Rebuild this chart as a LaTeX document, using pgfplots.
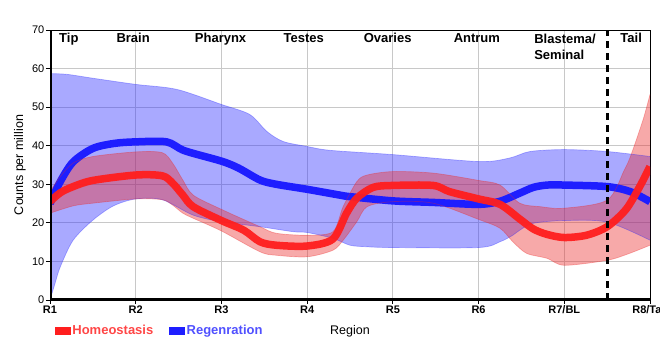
\documentclass[border=0pt]{standalone}
\usepackage{fontspec}
\setmainfont{Liberation Sans}
\usepackage{pgfplots}
\pgfplotsset{compat=1.18}
\usepgfplotslibrary{fillbetween}
\definecolor{hred}{RGB}{255,30,30}
\definecolor{hblue}{RGB}{30,30,255}
\definecolor{bandred}{RGB}{235,40,40}
\definecolor{bandblue}{RGB}{40,40,255}
\definecolor{gridgray}{RGB}{200,200,200}
\definecolor{legred}{RGB}{255,70,70}
\definecolor{legblue}{RGB}{80,80,255}
\begin{document}
\begin{tikzpicture}
\begin{axis}[
 at={(0,0)}, anchor=south west,
 scale only axis, width=600bp, height=270bp,
 xmin=0, xmax=7, ymin=0, ymax=70,
 xtick={0,...,7},
 xticklabels={R1,R2,R3,R4,R5,R6,R7/BL,R8/Tail},
 ytick={0,10,...,70},
 grid=major,
 grid style={gridgray, line width=1bp},
 axis line style={black, line width=1bp},
 tick align=outside, tick pos=left, major tick length=4bp,
 tick style={black, line width=1bp},
 /pgf/number format/assume math mode=true,
 yticklabel style={font=\fontsize{11bp}{13bp}\selectfont, inner sep=1.5bp},
 xticklabel style={font=\fontsize{11bp}{13bp}\selectfont\bfseries, inner sep=1.5bp},
 ylabel={Counts per million},
 ylabel style={at={(axis description cs:-0.05,0.5)}, anchor=center, font=\fontsize{12.5bp}{15bp}\selectfont},
 xlabel={Region},
 xlabel style={at={(axis description cs:0.5,-0.115)}, anchor=center, font=\fontsize{12.5bp}{15bp}\selectfont},
 legend style={at={(axis description cs:0.008,-0.114)}, anchor=west, draw=none, fill=none, inner sep=0pt, legend columns=2, font=\fontsize{13bp}{15bp}\selectfont\bfseries, /tikz/every even column/.append style={column sep=14bp}},
 legend cell align=left,
]
\addlegendimage{legend image code/.code={\fill[hred] (0bp,-3.4bp) rectangle (15bp,3.4bp);}}
\addlegendentry{\textcolor{legred}{Homeostasis}}
\addlegendimage{legend image code/.code={\fill[hblue] (0bp,-3.4bp) rectangle (15bp,3.4bp);}}
\addlegendentry{\textcolor{legblue}{Regenration}}

% Regeneration band
\addplot[name path=bu, draw=bandblue, draw opacity=0.35, line width=0.7bp, smooth, tension=0.5, forget plot] coordinates {
(0,58.7) (0.2,58.5) (0.5,57.5) (1,55.9) (1.48,54.6) (2,50.7) (2.33,48.1) (2.53,43.7) (2.72,41.1) (3,39.8) (3.27,38.8) (4,37.7) (5,35.9) (5.36,36.8) (5.6,38.5) (6,39) (6.5,38.5) (7,37.2)};
\addplot[name path=bl, draw=bandblue, draw opacity=0.35, line width=0.7bp, smooth, tension=0.5, forget plot] coordinates {
(0,0) (0.06,4.4) (0.12,8.6) (0.27,15.5) (0.5,20.7) (0.74,24.4) (1,26.2) (1.31,26) (1.67,22) (2,20.3) (2.45,19) (2.84,17.7) (3,17.5) (3.3,16) (3.5,14.2) (3.7,13.8) (4,13.6) (5,13.6) (5.25,15.1) (5.4,16.8) (5.48,18.1) (5.64,19.9) (6,20.6) (6.5,20.2) (7,15.5)};
\addplot[fill=bandblue, fill opacity=0.4, draw=none, forget plot] fill between[of=bu and bl];
% Regeneration mean
\addplot[hblue, line width=7.5bp, smooth, tension=0.5, forget plot] coordinates {
(0,25) (0.12,30.7) (0.27,35.8) (0.5,39.3) (0.75,40.6) (1,41) (1.36,41) (1.57,38.7) (2,36) (2.2,34.2) (2.45,31.1) (2.64,30) (3,28.7) (3.38,27.2) (3.5,26.8) (4,25.7) (4.47,25.3) (5,24.8) (5.25,25.6) (5.48,27.7) (5.64,29.2) (5.8,29.8) (6,29.8) (6.5,29.4) (6.77,28.1) (7,25.5)};

% Homeostasis band
\addplot[name path=ru, draw=bandred, draw opacity=0.35, line width=0.7bp, smooth, tension=0.5, forget plot] coordinates {
(0,28.1) (0.12,32) (0.27,35.5) (0.5,37.2) (1,38.4) (1.31,38.2) (1.43,35.5) (1.55,31.1) (1.67,27.2) (2,23.5) (2.45,19) (2.64,17.3) (3,16.8) (3.3,17.7) (3.42,24.2) (3.58,30.7) (3.7,32.4) (4,33.3) (4.47,32.9) (5,31) (5.25,29.8) (5.48,25.1) (5.72,24.2) (6,23.8) (6.5,25.9) (6.7,33.7) (6.78,37.7) (6.92,46.8) (7,53.3)};
\addplot[name path=rl, draw=bandred, draw opacity=0.35, line width=0.7bp, smooth, tension=0.5, forget plot] coordinates {
(0,22.5) (0.27,24.4) (0.5,25.1) (1,26.2) (1.31,26) (1.43,24.6) (1.55,22.5) (1.67,21.2) (2,17.9) (2.45,12.5) (2.64,11.6) (3,11.2) (3.3,12.9) (3.42,15.5) (3.58,20.3) (3.7,24.2) (4,25.5) (4.47,25.1) (5,20.9) (5.25,18.6) (5.4,15.1) (5.56,12.1) (5.8,10.8) (6,9) (6.5,10.3) (6.75,12) (7,14.2)};
\addplot[fill=bandred, fill opacity=0.4, draw=none, forget plot] fill between[of=ru and rl];
% Homeostasis mean
\addplot[hred, line width=7.5bp, opacity=0.95, smooth, tension=0.5, forget plot] coordinates {
(0,25.5) (0.12,27.8) (0.27,29.4) (0.5,31) (1,32.4) (1.31,32.2) (1.43,30.3) (1.55,27.2) (1.67,24.2) (2,20.6) (2.26,18.1) (2.45,15.1) (2.64,14.2) (3,14) (3.3,15.8) (3.46,22.5) (3.58,26.4) (3.77,29.2) (4,29.7) (4.47,29.7) (4.66,28.1) (5,26.2) (5.25,24.8) (5.48,21) (5.64,18.4) (5.8,17) (6,16.2) (6.26,16.8) (6.5,19) (6.72,23.5) (6.88,29.4) (7,34.6)};

\draw[black, line width=2.8bp, dash pattern=on 7bp off 5bp] (axis cs:6.5,0) -- (axis cs:6.5,70);
\draw[black, line width=1bp] (rel axis cs:0,0) rectangle (rel axis cs:1,1);
\draw[black, line width=3bp] (rel axis cs:0,1) -- (rel axis cs:0,0) -- (rel axis cs:1,0);

\begin{scope}[every node/.style={font=\fontsize{13bp}{16bp}\selectfont\bfseries, inner sep=0pt}]
\node[anchor=base] at (axis cs:0.22,66.7) {Tip};
\node[anchor=base] at (axis cs:0.97,66.7) {Brain};
\node[anchor=base] at (axis cs:1.99,66.7) {Pharynx};
\node[anchor=base] at (axis cs:2.96,66.7) {Testes};
\node[anchor=base] at (axis cs:3.94,66.7) {Ovaries};
\node[anchor=base] at (axis cs:4.98,66.7) {Antrum};
\node[anchor=north west, align=left] at (axis cs:5.648,69.1) {Blastema/\\Seminal};
\node[anchor=base] at (axis cs:6.78,66.7) {Tail};
\end{scope}
\node[font=\fontsize{12.5bp}{15bp}\selectfont\bfseries] at (axis description cs:0.467,1.078) {MligTC455\_27542 (Mlig455\_010204)};
\end{axis}
\pgfresetboundingbox
\path[use as bounding box] (-50bp,-60bp) rectangle (610bp,300bp);
\end{tikzpicture}
\end{document}
